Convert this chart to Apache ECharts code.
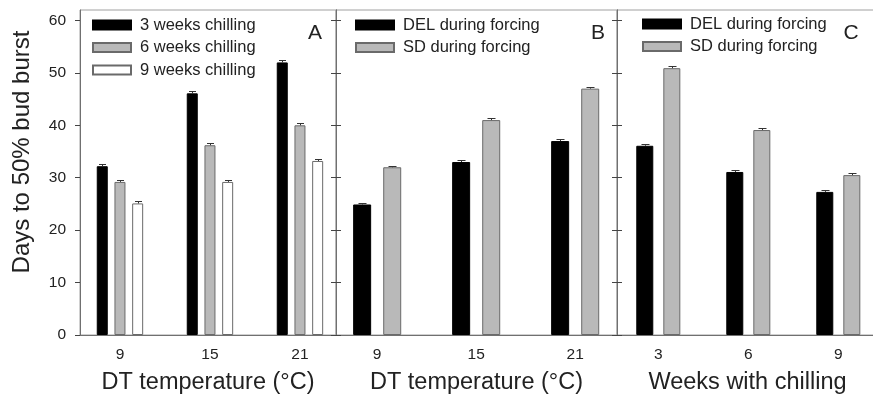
<!DOCTYPE html>
<html><head><meta charset="utf-8">
<script src="https://cdn.jsdelivr.net/npm/echarts@6/dist/echarts.min.js"></script>
<style>html,body{margin:0;padding:0;background:#fff}#c{width:873px;height:398px}</style>
</head><body><div id="c"></div>
<script>
// ---- data ----
const catsTemp = ['9', '15', '21'];
const catsWeeks = ['3', '6', '9'];
const yTicks = [0, 10, 20, 30, 40, 50, 60];
// Panel A
const a3w = [32.2, 46.1, 52.0];
const a6w = [29.2, 36.2, 40.0];
const a9w = [25.1, 29.2, 33.2];
const a3wErr = [0.4, 0.4, 0.4];
const a6wErr = [0.4, 0.4, 0.4];
const a9wErr = [0.4, 0.3, 0.4];
// Panel B
const bDEL = [24.9, 33.0, 37.0];
const bSD = [32.0, 41.0, 47.0];
const bDELErr = [0.3, 0.4, 0.4];
const bSDErr = [0.3, 0.4, 0.4];
// Panel C
const cDEL = [36.1, 31.1, 27.3];
const cSD = [50.9, 39.1, 30.5];
const cDELErr = [0.3, 0.4, 0.4];
const cSDErr = [0.4, 0.3, 0.4];

const FONT = "'Liberation Sans', Arial, Helvetica, sans-serif";
const AXC = '#707070';
const chart = echarts.init(document.getElementById('c'), null, {renderer: 'canvas'});

const grids = [
  {left: 80, top: 10, width: 256, height: 325},
  {left: 336, top: 10, width: 281, height: 325},
  {left: 617, top: 10, width: 261, height: 325}
].map(g => Object.assign(g, {show: true, borderColor: '#a0a0a0', borderWidth: 1,
  backgroundColor: 'transparent', containLabel: false, outerBoundsMode: 'none'}));

function xAxis(gi, min, max, cats, name) {
  return {
    type: 'value', gridIndex: gi, min, max,
    axisLine: {show: true, lineStyle: {color: AXC, width: 1}},
    axisTick: {show: false},
    splitLine: {show: false},
    axisLabel: {customValues: cats.map((c, i) => i), formatter: v => cats[Math.round(v)],
      color: '#222', fontSize: 15.5, fontFamily: FONT, margin: 12},
    name, nameLocation: 'middle', nameGap: 36,
    nameTextStyle: {fontSize: 23.5, color: '#222', fontFamily: FONT}
  };
}
function yAxis(gi, pos, labels, inside) {
  return {
    type: 'value', gridIndex: gi, position: pos, min: 0, max: 62,
    axisLine: {show: true, onZero: false, lineStyle: {color: AXC, width: 1}},
    axisTick: {show: true, inside, length: 5, customValues: yTicks, lineStyle: {color: '#444'}},
    splitLine: {show: false},
    axisLabel: {show: labels, customValues: yTicks, color: '#222', fontSize: 15.5, fontFamily: FONT, margin: 14}
  };
}

const styles = {
  black: {color: '#000', borderColor: '#000', borderWidth: 1},
  gray: {color: '#b9b9b9', borderColor: '#6a6a6a', borderWidth: 1},
  white: {color: '#fff', borderColor: '#6a6a6a', borderWidth: 1}
};

function bar(name, xi, yi, vals, st, bw, gap) {
  return {type: 'bar', name, xAxisIndex: xi, yAxisIndex: yi, barWidth: bw, barGap: gap,
    itemStyle: st, data: vals.map((v, i) => [i, v]), z: 2};
}
function err(name, xi, yi, vals, errs, offset, capW) {
  return {
    type: 'custom', name, xAxisIndex: xi, yAxisIndex: yi, z: 5, silent: true,
    data: vals.map((v, i) => [i, v, errs[i]]),
    renderItem(params, api) {
      const x = api.value(0), v = api.value(1), e = api.value(2);
      const top = api.coord([x, v + e]);
      const mid = api.coord([x, v]);
      const cx = Math.round(top[0] + offset) + 0.5;
      const ty = Math.round(top[1]) + 0.5;
      return {type: 'group', children: [
        {type: 'line', shape: {x1: cx, y1: mid[1], x2: cx, y2: ty}, style: {stroke: '#333', lineWidth: 1}},
        {type: 'line', shape: {x1: cx - capW / 2, y1: ty, x2: cx + capW / 2, y2: ty}, style: {stroke: '#333', lineWidth: 1}}
      ]};
    }
  };
}

const legendBase = {
  orient: 'vertical', padding: 0, itemWidth: 38, itemHeight: 9, itemGap: 4.5, icon: 'rect',
  selectedMode: false,
  textStyle: {fontSize: 16.5, fontFamily: FONT, color: '#222', lineHeight: 18, padding: [0, 0, 0, 4]}
};

const option = {
  backgroundColor: '#fff',
  animation: false,
  grid: grids,
  xAxis: [
    xAxis(0, -0.444, -0.444 + 256 / 90, catsTemp, 'DT temperature (°C)'),
    xAxis(1, -0.416, -0.416 + 281 / 99, catsTemp, 'DT temperature (°C)'),
    xAxis(2, -0.459, -0.459 + 261 / 90, catsWeeks, 'Weeks with chilling')
  ],
  yAxis: [
    yAxis(0, 'left', true, false),
    yAxis(0, 'right', false, true),
    yAxis(1, 'left', false, true),
    yAxis(1, 'right', false, true),
    yAxis(2, 'left', false, true)
  ],
  legend: [
    Object.assign({}, legendBase, {left: 92, top: 16, data: ['3 weeks chilling', '6 weeks chilling', '9 weeks chilling']}),
    Object.assign({}, legendBase, {left: 355, top: 16, data: ['DEL during forcing', 'SD during forcing']}),
    Object.assign({}, legendBase, {left: 642, top: 15, data: ['DEL during forcing', 'SD during forcing']})
  ],
  series: [
    bar('3 weeks chilling', 0, 0, a3w, styles.black, 11, '61%'),
    bar('6 weeks chilling', 0, 0, a6w, styles.gray, 11, '61%'),
    bar('9 weeks chilling', 0, 0, a9w, styles.white, 11, '61%'),
    err('eA3', 0, 0, a3w, a3wErr, -17.7, 7),
    err('eA6', 0, 0, a6w, a6wErr, 0, 7),
    err('eA9', 0, 0, a9w, a9wErr, 17.7, 7),
    bar('DEL during forcing', 1, 2, bDEL, styles.black, 18, '67%'),
    bar('SD during forcing', 1, 2, bSD, styles.gray, 18, '67%'),
    err('eBD', 1, 2, bDEL, bDELErr, -15, 8),
    err('eBS', 1, 2, bSD, bSDErr, 15, 8),
    bar('DEL during forcing', 2, 4, cDEL, styles.black, 17, '59%'),
    bar('SD during forcing', 2, 4, cSD, styles.gray, 17, '59%'),
    err('eCD', 2, 4, cDEL, cDELErr, -13.5, 8),
    err('eCS', 2, 4, cSD, cSDErr, 13.5, 8)
  ],
  graphic: [
    {type: 'text', x: 22, y: 152, rotation: Math.PI / 2,
      style: {text: 'Days to 50% bud burst', x: 0, y: 0, align: 'center', verticalAlign: 'middle',
        fontSize: 24, fontFamily: FONT, fill: '#222'}},
    {type: 'text', x: 315, y: 33, style: {text: 'A', align: 'center', verticalAlign: 'middle', fontSize: 21, fontFamily: FONT, fill: '#222'}},
    {type: 'text', x: 598, y: 33, style: {text: 'B', align: 'center', verticalAlign: 'middle', fontSize: 21, fontFamily: FONT, fill: '#222'}},
    {type: 'text', x: 851, y: 33, style: {text: 'C', align: 'center', verticalAlign: 'middle', fontSize: 21, fontFamily: FONT, fill: '#222'}}
  ]
};
chart.setOption(option);
</script>
</body></html>
